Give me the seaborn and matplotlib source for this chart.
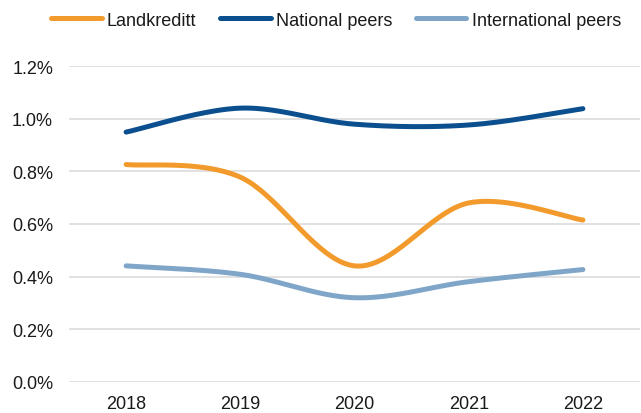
import matplotlib.pyplot as plt
from matplotlib.lines import Line2D
import seaborn as sns
import pandas as pd
import numpy as np

years = ['2018', '2019', '2020', '2021', '2022']
landkreditt = [0.826, 0.778, 0.441, 0.680, 0.615]
national = [0.949, 1.040, 0.979, 0.976, 1.038]
international = [0.441, 0.409, 0.320, 0.381, 0.427]

series = {'Landkreditt': landkreditt,
          'National peers': national,
          'International peers': international}
colors = {'Landkreditt': '#F39A2C',
          'National peers': '#0B4F8F',
          'International peers': '#7FA6C9'}


def smooth(xs, ys, n=40):
    # catmull-rom style bezier, like office smoothed lines
    p = np.column_stack([xs, ys]).astype(float)
    ext = np.vstack([p[0], p, p[-1]])
    out = []
    for i in range(len(p) - 1):
        p0, p1, p2, p3 = ext[i], ext[i + 1], ext[i + 2], ext[i + 3]
        c1 = p1 + (p2 - p0) / 6
        c2 = p2 - (p3 - p1) / 6
        t = np.linspace(0, 1, n)[:, None]
        seg = ((1 - t) ** 3) * p1 + 3 * ((1 - t) ** 2) * t * c1 + 3 * (1 - t) * t ** 2 * c2 + t ** 3 * p2
        out.append(seg if i == 0 else seg[1:])
    return np.vstack(out)


rows = []
for name, vals in series.items():
    curve = smooth(np.arange(len(years)), vals)
    for k, (x, y) in enumerate(curve):
        rows.append({'x': x, 'y': y, 'series': name, 'order': k})
df = pd.DataFrame(rows)

sns.set_style('white')
plt.rcParams['font.family'] = ['Liberation Sans', 'DejaVu Sans']
txt = '#1a1a1a'

fig = plt.figure(figsize=(6.41, 4.14), dpi=100)
ax = fig.add_axes([69 / 641, 1 - 383 / 414, 571 / 641, 316 / 414])

for y in np.arange(0, 1.21, 0.2):
    ax.axhline(y, color='#D9D9D9', lw=1.1, zorder=0)

sns.lineplot(data=df, x='x', y='y', hue='series', palette=colors, sort=False,
             estimator=None, units='series', lw=3.6, legend=False, ax=ax,
             solid_capstyle='round', clip_on=False)

ax.set_xlim(-0.5, 4.5)
ax.set_ylim(0, 1.2)
ax.set_xticks(range(len(years)))
ax.set_xticklabels(years)
ax.set_yticks(np.arange(0, 1.21, 0.2))
ax.set_yticklabels([f'{v:.1f}%' for v in np.arange(0, 1.21, 0.2)])
ax.tick_params(axis='both', length=0, labelsize=13, colors=txt)
ax.tick_params(axis='y', pad=11.5)
ax.tick_params(axis='x', pad=9.5)
ax.set_xlabel('')
ax.set_ylabel('')
sns.despine(ax=ax, left=True, bottom=True)

handles = [Line2D([0], [0], color=colors[n], lw=3.6, solid_capstyle='round') for n in series]
fig.legend(handles, list(series), loc='center', bbox_to_anchor=(336 / 641, 1 - 21 / 414),
           ncol=3, frameon=False, fontsize=13, handlelength=2.8, handletextpad=0.3,
           columnspacing=1.3, labelcolor=txt)

fig.savefig('out.png', dpi=100)
